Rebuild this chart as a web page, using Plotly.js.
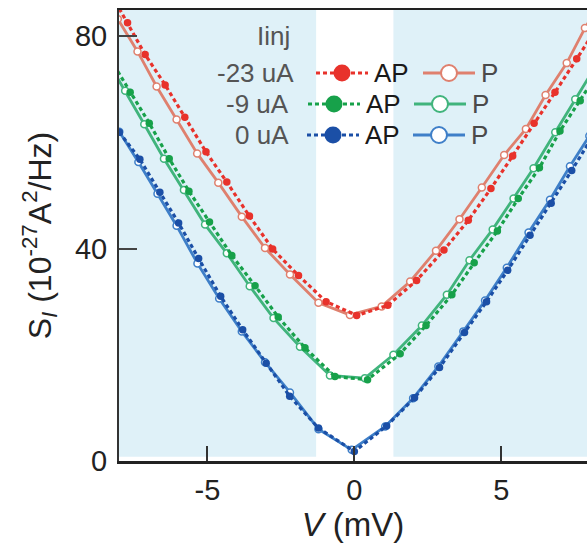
<!DOCTYPE html>
<html><head><meta charset="utf-8">
<script src="https://cdn.plot.ly/plotly-3.0.1.min.js"></script>
<style>html,body{margin:0;padding:0;background:#fff}</style>
</head><body><div id="chart" style="width:587px;height:547px"></div>
<script>
// ---- data (V in mV, S_I in 1e-27 A^2/Hz) ----
const vRedAP   = [-8.35, -7.72, -7.12, -6.44, -5.77, -5.05, -4.34, -3.57, -2.78, -1.9, -0.96, 0.08, 1.14, 2.12, 3.05, 3.88, 4.65, 5.39, 6.12, 6.83, 7.57, 8.25];
const sRedAP   = [88.6, 82.5, 76.5, 70.8, 64.7, 58.2, 52.5, 46.1, 39.9, 34.9, 30.0, 27.4, 29.3, 34.0, 39.7, 45.3, 51.3, 57.4, 63.6, 69.4, 75.7, 81.5];
const vRedP    = [-8.05, -7.38, -6.73, -6.05, -5.35, -4.63, -3.83, -3.04, -2.19, -1.22, -0.15, 0.93, 1.9, 2.78, 3.58, 4.34, 5.1, 5.84, 6.51, 7.23, 7.85, 8.5];
const sRedP    = [83.2, 77.1, 70.5, 64.3, 57.9, 52.4, 46.0, 40.1, 35.1, 29.8, 27.5, 29.1, 33.8, 39.6, 45.5, 51.5, 57.6, 62.5, 68.9, 74.9, 81.5, 87.5];
const vGreenAP = [-8.3, -7.63, -6.98, -6.3, -5.63, -4.93, -4.17, -3.38, -2.59, -1.68, -0.66, 0.45, 1.56, 2.44, 3.32, 4.08, 4.87, 5.58, 6.3, 7.0, 7.69, 8.4];
const sGreenAP = [75.6, 69.4, 63.6, 56.9, 50.8, 45.0, 38.7, 33.0, 27.1, 21.3, 15.9, 15.3, 20.2, 25.5, 31.3, 37.3, 43.3, 49.4, 55.2, 62.1, 67.8, 74.0];
const vGreenP  = [-8.45, -7.8, -7.15, -6.48, -5.8, -5.08, -4.34, -3.56, -2.75, -1.85, -0.83, 0.36, 1.33, 2.3, 3.15, 3.92, 4.71, 5.42, 6.1, 6.84, 7.52, 8.2];
const sGreenP  = [75.8, 69.7, 63.4, 56.9, 51.0, 44.5, 39.1, 32.9, 26.9, 21.5, 16.1, 15.6, 20.0, 25.5, 31.3, 37.8, 43.6, 49.4, 55.1, 61.9, 68.1, 74.2];
const vBlueAP  = [-8.0, -7.3, -6.62, -5.98, -5.3, -4.55, -3.8, -3.0, -2.2, -1.22, 0.0, 1.1, 2.05, 2.9, 3.75, 4.5, 5.22, 5.98, 6.7, 7.4, 8.1];
const sBlueAP  = [61.9, 56.8, 50.6, 44.8, 38.1, 31.0, 24.7, 18.4, 12.2, 6.2, 1.8, 6.6, 11.9, 17.6, 24.2, 30.0, 35.9, 42.5, 48.5, 54.7, 61.0];
const vBlueP   = [-8.0, -7.35, -6.7, -6.05, -5.34, -4.6, -3.83, -3.04, -2.19, -1.22, -0.09, 1.05, 2.0, 2.86, 3.71, 4.45, 5.19, 5.93, 6.66, 7.34, 8.0];
const sBlueP   = [62.0, 56.3, 50.3, 44.3, 37.2, 30.6, 24.4, 18.6, 12.9, 6.0, 2.1, 6.5, 11.8, 17.8, 24.4, 30.2, 36.4, 43.0, 49.2, 55.5, 61.2];

const currentLabels = ['-23 uA', '-9 uA', '0 uA'];
const stateLabels = ['AP', 'P'];
const xTicks = [-5, 0, 5];
const yTicks = [0, 40, 80];
const shadeEdges = [-1.3, 1.33];

// ---- styles ----
const colorsAP = ['#e8322b', '#17a14a', '#1b4fa6'];
const colorsP  = ['#df806e', '#40b47c', '#3e7fc8'];
const FONT = 'Liberation Sans, Arial, sans-serif';

const M = {l: 119, r: 0, t: 10, b: 86};
const W = 587, H = 547;
const pw = W - M.l - M.r, ph = H - M.t - M.b;
const px = x => (x - M.l) / pw;
const py = y => (H - M.b - y) / ph;

const series = [
  {v: vRedP, s: sRedP, c: colorsP[0], ap: false},
  {v: vGreenP, s: sGreenP, c: colorsP[1], ap: false},
  {v: vBlueP, s: sBlueP, c: colorsP[2], ap: false},
  {v: vRedAP, s: sRedAP, c: colorsAP[0], ap: true},
  {v: vGreenAP, s: sGreenAP, c: colorsAP[1], ap: true},
  {v: vBlueAP, s: sBlueAP, c: colorsAP[2], ap: true}
];

const traces = series.map(d => ({
  type: 'scatter', mode: 'lines+markers', x: d.v, y: d.s, showlegend: false,
  line: {color: d.c, width: d.ap ? 3.2 : 2.8, dash: d.ap ? '4px,3px' : 'solid'},
  marker: d.ap ? {symbol: 'circle', size: 7.5, color: d.c}
               : {symbol: 'circle', size: 7, color: '#ffffff', line: {color: d.c, width: 1.5}}
}));

const shapes = [
  {type: 'rect', xref: 'x', yref: 'y', x0: -9, x1: shadeEdges[0], y0: 0.8, y1: 90, fillcolor: '#dff1f8', line: {width: 0}, layer: 'below'},
  {type: 'rect', xref: 'x', yref: 'y', x0: shadeEdges[1], x1: 9, y0: 0.8, y1: 90, fillcolor: '#dff1f8', line: {width: 0}, layer: 'below'}
];
const annotations = [
  {xref: 'paper', yref: 'paper', x: px(292), y: py(36), xanchor: 'right', yanchor: 'middle', text: 'Iinj', showarrow: false, font: {family: FONT, size: 26, color: '#555'}}
];

// legend layout (pixel positions)
const rowsY = [73, 104, 135];
const labelRight = [296, 291, 291];
const apStart = [316, 308, 307];
const pStart = [423, 414, 413];
const sampleLen = 52;
for (let i = 0; i < 3; i++) {
  const yy = py(rowsY[i]);
  annotations.push({xref: 'paper', yref: 'paper', x: px(labelRight[i]), y: yy, xanchor: 'right', yanchor: 'middle', text: currentLabels[i], showarrow: false, font: {family: FONT, size: 26, color: '#555'}});
  // AP sample
  shapes.push({type: 'line', xref: 'paper', yref: 'paper', x0: px(apStart[i]), x1: px(apStart[i] + sampleLen), y0: yy, y1: yy, line: {color: colorsAP[i], width: 3, dash: '4px,3px'}, layer: 'above'});
  shapes.push({type: 'circle', xref: 'paper', yref: 'paper', xsizemode: 'pixel', ysizemode: 'pixel', xanchor: px(apStart[i] + sampleLen / 2), yanchor: yy, x0: -8.5, x1: 8.5, y0: -8.5, y1: 8.5, fillcolor: colorsAP[i], line: {color: colorsAP[i], width: 0}, layer: 'above'});
  annotations.push({xref: 'paper', yref: 'paper', x: px(apStart[i] + sampleLen + 4), y: yy, xanchor: 'left', yanchor: 'middle', text: stateLabels[0], showarrow: false, font: {family: FONT, size: 26, color: '#1a1a1a'}});
  // P sample
  shapes.push({type: 'line', xref: 'paper', yref: 'paper', x0: px(pStart[i]), x1: px(pStart[i] + sampleLen), y0: yy, y1: yy, line: {color: colorsP[i], width: 3}, layer: 'above'});
  shapes.push({type: 'circle', xref: 'paper', yref: 'paper', xsizemode: 'pixel', ysizemode: 'pixel', xanchor: px(pStart[i] + sampleLen / 2), yanchor: yy, x0: -8, x1: 8, y0: -8, y1: 8, fillcolor: '#ffffff', line: {color: colorsP[i], width: 2}, layer: 'above'});
  annotations.push({xref: 'paper', yref: 'paper', x: px(pStart[i] + sampleLen + 4), y: yy, xanchor: 'left', yanchor: 'middle', text: stateLabels[1], showarrow: false, font: {family: FONT, size: 26, color: '#4a4a4a'}});
}

const layout = {
  width: W, height: H, margin: M,
  paper_bgcolor: '#ffffff', plot_bgcolor: '#ffffff',
  font: {family: FONT, color: '#222'},
  showlegend: false,
  xaxis: {
    range: [-8.01, 7.92], tickvals: xTicks, ticktext: xTicks.map(String),
    ticks: 'inside', ticklen: 15, tickwidth: 2, tickcolor: '#333',
    showline: true, linecolor: '#222', linewidth: 2.5, mirror: true,
    showgrid: false, zeroline: false, automargin: false,
    tickfont: {family: FONT, size: 29, color: '#222'}, ticklabelstandoff: 2,
    title: {text: '<i>V</i> (mV)', font: {family: FONT, size: 33, color: '#222'}, standoff: 8}
  },
  yaxis: {
    range: [0, 84.9], tickvals: yTicks, ticktext: yTicks.map(String),
    ticks: 'inside', ticklen: 18, tickwidth: 2, tickcolor: '#444',
    showline: true, linecolor: '#333', linewidth: 2,
    showgrid: false, zeroline: false, automargin: false,
    tickfont: {family: FONT, size: 29, color: '#222'}, ticklabelstandoff: 4,
    title: {text: 'S<sub><i>I</i></sub> (10<sup>-27</sup>A<sup>2</sup>/Hz)', font: {family: FONT, size: 32, color: '#222'}, standoff: 14}
  },
  shapes: shapes,
  annotations: annotations
};

Plotly.newPlot('chart', traces, layout, {displayModeBar: false, staticPlot: true});
</script>
</body></html>
